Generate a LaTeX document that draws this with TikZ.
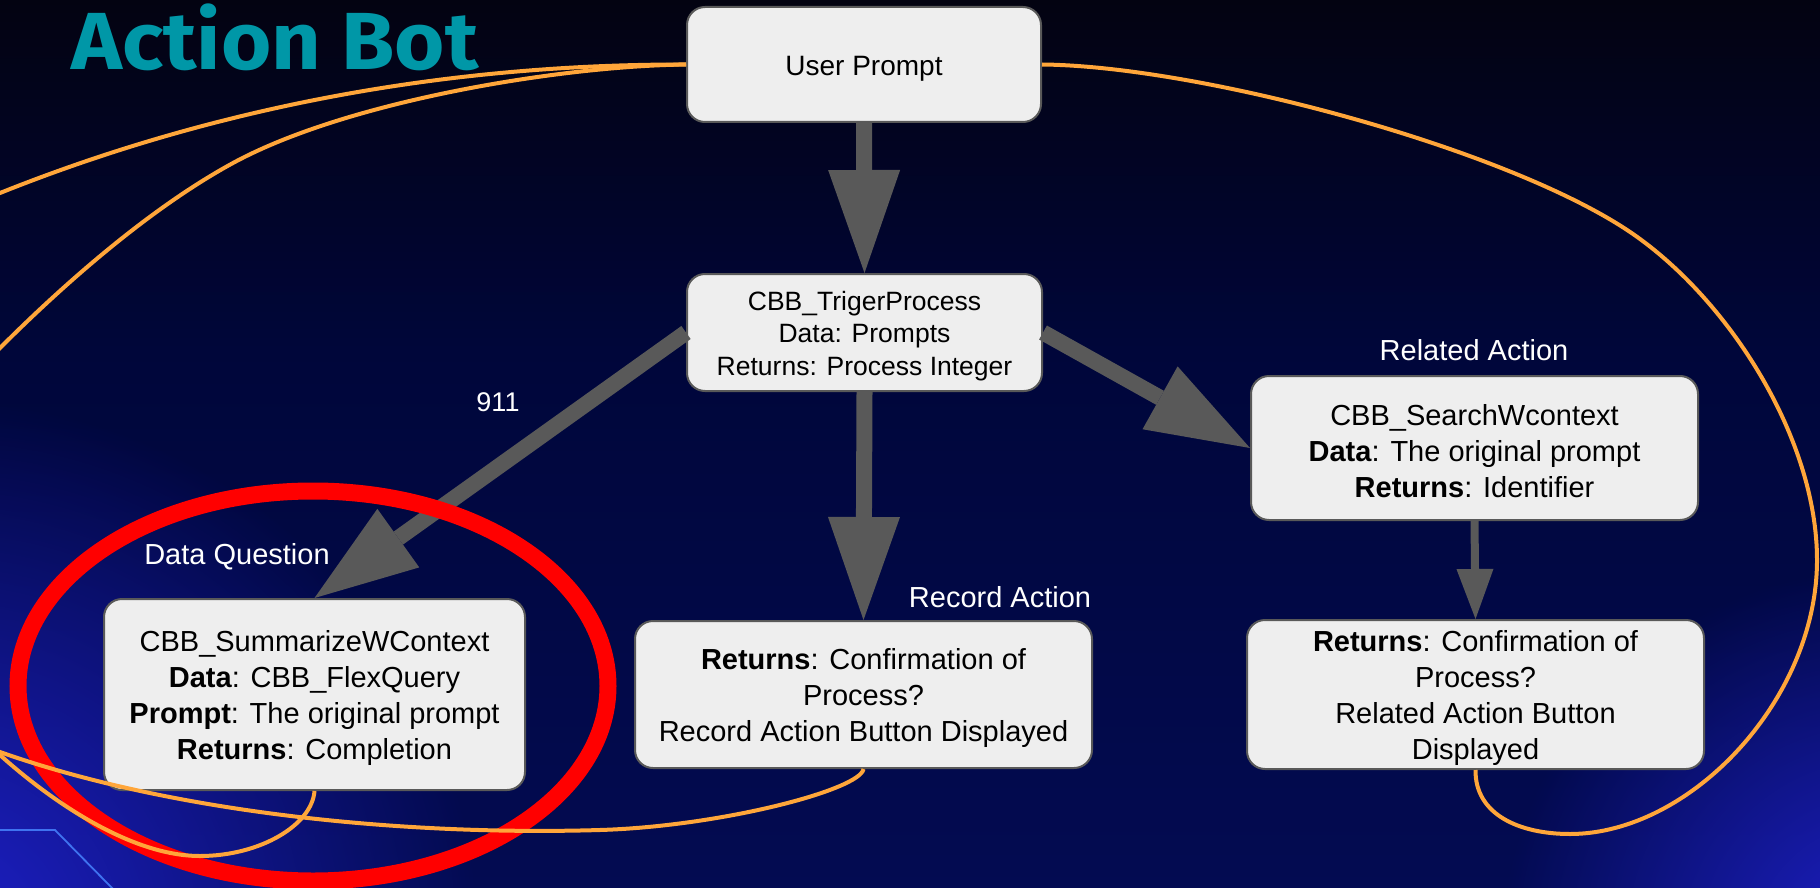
\documentclass[tikz,border=0pt]{standalone}
\usepackage{fontspec}
\setmainfont{Liberation Sans}
\newfontfamily\titlefont{Fira Sans}
\usetikzlibrary{arrows.meta,fadings}

\definecolor{bgtop}{HTML}{030311}
\definecolor{bgmid}{HTML}{00063A}
\definecolor{bgbot}{HTML}{030B52}
\definecolor{glowc}{HTML}{1E20C8}
\definecolor{titlec}{HTML}{0097A7}
\definecolor{arrowc}{HTML}{595959}
\definecolor{boxfill}{HTML}{EEEEEE}
\definecolor{loopc}{HTML}{FFA63A}
\definecolor{edgeblue}{HTML}{3F73F0}
\definecolor{ringred}{HTML}{FF0000}

\tikzfading[name=glowfade, inner color=transparent!0, outer color=transparent!100]
\newcommand{\lift}{\rule{0pt}{0.97em}}

\begin{document}
\begin{tikzpicture}[x=1pt,y=-1pt,
  box/.style={draw=arrowc, line width=2pt, fill=boxfill, rounded corners=18pt,
    align=center, inner sep=0pt, text=black},
  bigbox/.style={box, font=\fontsize{29}{36}\selectfont},
  lbl/.style={text=white, inner sep=0pt, font=\fontsize{29}{35}\selectfont},
  bigarrow/.style={draw=arrowc, line width=16pt,
    -{Triangle[length=103pt, width=72pt, line width=0pt]}},
  smallarrow/.style={draw=arrowc, line width=8pt,
    -{Triangle[length=50pt, width=37pt, line width=0pt]}},
  loopline/.style={draw=loopc, line width=4pt},
  ring/.style={draw=ringred, line width=17pt}
]
\useasboundingbox (0,0) rectangle (1820,888);
\clip (0,0) rectangle (1820,888);

% background
\shade[top color=bgtop, bottom color=bgmid] (0,0) rectangle (1820,350);
\shade[top color=bgmid, bottom color=bgbot] (0,350) rectangle (1820,888);
\fill[glowc, path fading=glowfade] (-60,940) circle[radius=540pt];
\fill[glowc, path fading=glowfade] (1880,950) circle[radius=380pt];
\draw[edgeblue, line width=1.8pt] (0,830) -- (55,830) -- (116,892);

% title
\node[anchor=base west, text=titlec, inner sep=0pt,
  font=\titlefont\bfseries\fontsize{81}{81}\selectfont] (title) at (71,70)
  {\scalebox{1.065}[1]{Action Bot}};

% boxes
\node[box, font=\fontsize{28}{34}\selectfont, minimum width=354pt, minimum height=115pt]
  (up) at (864,64.5) {\lift User Prompt};
\node[box, font=\fontsize{26.5}{32.5}\selectfont, minimum width=355pt, minimum height=117pt]
  (tp) at (864.5,332.5) {\lift CBB\_TrigerProcess\\Data: Prompts\\Returns: Process Integer};
\node[bigbox, minimum width=447pt, minimum height=144pt]
  (search) at (1474.5,448) {\lift CBB\_SearchWcontext\\\textbf{Data}: The original prompt\\\textbf{Returns}: Identifier};
\node[bigbox, minimum width=457pt, minimum height=149pt]
  (rel) at (1475.5,694.5) {\lift\textbf{Returns}: Confirmation of\\Process?\\Related Action Button\\Displayed};
\node[bigbox, minimum width=457pt, minimum height=147pt]
  (rec) at (863.5,694.5) {\lift\textbf{Returns}: Confirmation of\\Process?\\Record Action Button Displayed};
\node[bigbox, minimum width=421pt, minimum height=191pt]
  (sum) at (314.5,694.5) {\lift CBB\_SummarizeWContext\\\textbf{Data}: CBB\_FlexQuery\\\textbf{Prompt}: The original prompt\\\textbf{Returns}: Completion};

% labels
\node[lbl, font=\fontsize{27}{32}\selectfont] (l911) at (498,402) {911};
\node[lbl] (ldq) at (237,557) {Data Question};
\node[lbl] (lrec) at (1000,597) {Record Action};
\node[lbl] (lrel) at (1474,350) {Related Action};

% arrows
\draw[bigarrow] (up.south) -- (tp.north);
\draw[bigarrow] (tp.south) -- (rec.north);
\draw[bigarrow] (tp.west) -- (sum.north);
\draw[bigarrow] (tp.east) -- (search.west);
\draw[smallarrow] (search.south) -- (rel.north);

% red ring
\draw[ring] (313,686) ellipse[x radius=295pt, y radius=195pt];

% orange loops
\draw[loopline] (rel.south)
  .. controls (1475,815) and (1520,834) .. (1570,834)
  .. controls (1690,834) and (1817,700) .. (1817,560)
  .. controls (1817,440) and (1731,302) .. (1633,234)
  .. controls (1510,149) and (1200,66) .. (up.east);
\draw[loopline] (rec.south)
  .. controls (860,790) and (720,826.4) .. (600,830)
  .. controls (400,836) and (170,812) .. (0,752)
  .. controls (-285,656) and (-250,283) .. (0,193)
  .. controls (170,125) and (400,64) .. (up.west);
\draw[loopline] (sum.south)
  .. controls (312,825) and (260,856) .. (200,856)
  .. controls (130,856) and (50,800) .. (0,755)
  .. controls (-100,670) and (-100,448) .. (0,348)
  .. controls (70,278) and (154,206) .. (233,163)
  .. controls (347,101) and (560,66) .. (up.west);
\end{tikzpicture}
\end{document}
